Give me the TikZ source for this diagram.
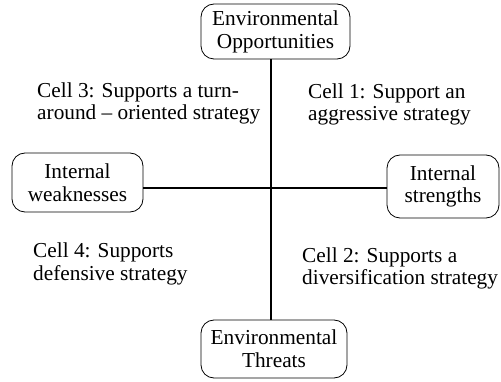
\documentclass[tikz,border=0pt]{standalone}
\usepackage{fontspec}
\setmainfont{Liberation Serif}
\begin{document}
\begin{tikzpicture}[x=1pt,y=-1pt,
  every node/.style={font=\fontsize{21.3}{22.8}\selectfont},
  pole/.style={draw=black, line width=0.8pt, rounded corners=13pt, inner sep=0pt, align=center},
  axis/.style={line width=2.6pt},
  cell/.style={align=left, inner sep=0pt, anchor=base west}]
\useasboundingbox (0,0) rectangle (501,382);
% the four poles of the grid
\node[pole, minimum width=149pt, minimum height=55pt] (opp) at (275.5,31.5) {Environmental\\Opportunities};
\node[pole, minimum width=146pt, minimum height=58pt] (thr) at (274,349) {Environmental\\Threats};
\node[pole, minimum width=131pt, minimum height=59pt] (weak) at (77.5,182.5) {Internal\\weaknesses};
\node[pole, minimum width=112pt, minimum height=63pt] (str) at (443,186.5) {Internal\\strengths};
% crossing point of the two axes
\coordinate (c) at (271,188);
\draw[axis] (c |- opp.south) -- (c |- thr.north);
\draw[axis] (weak.east |- c) -- (str.west |- c);
% the four cells (anchored at the baseline of their last line)
\node[cell] (cell3) at (37,120) {Cell 3: Supports a turn-\\around -- oriented strategy};
\node[cell] (cell1) at (308,121) {Cell 1: Support an\\aggressive strategy};
\node[cell] (cell4) at (33,280) {Cell 4: Supports\\defensive strategy};
\node[cell] (cell2) at (302,285) {Cell 2: Supports a\\diversification strategy};
\end{tikzpicture}
\end{document}
